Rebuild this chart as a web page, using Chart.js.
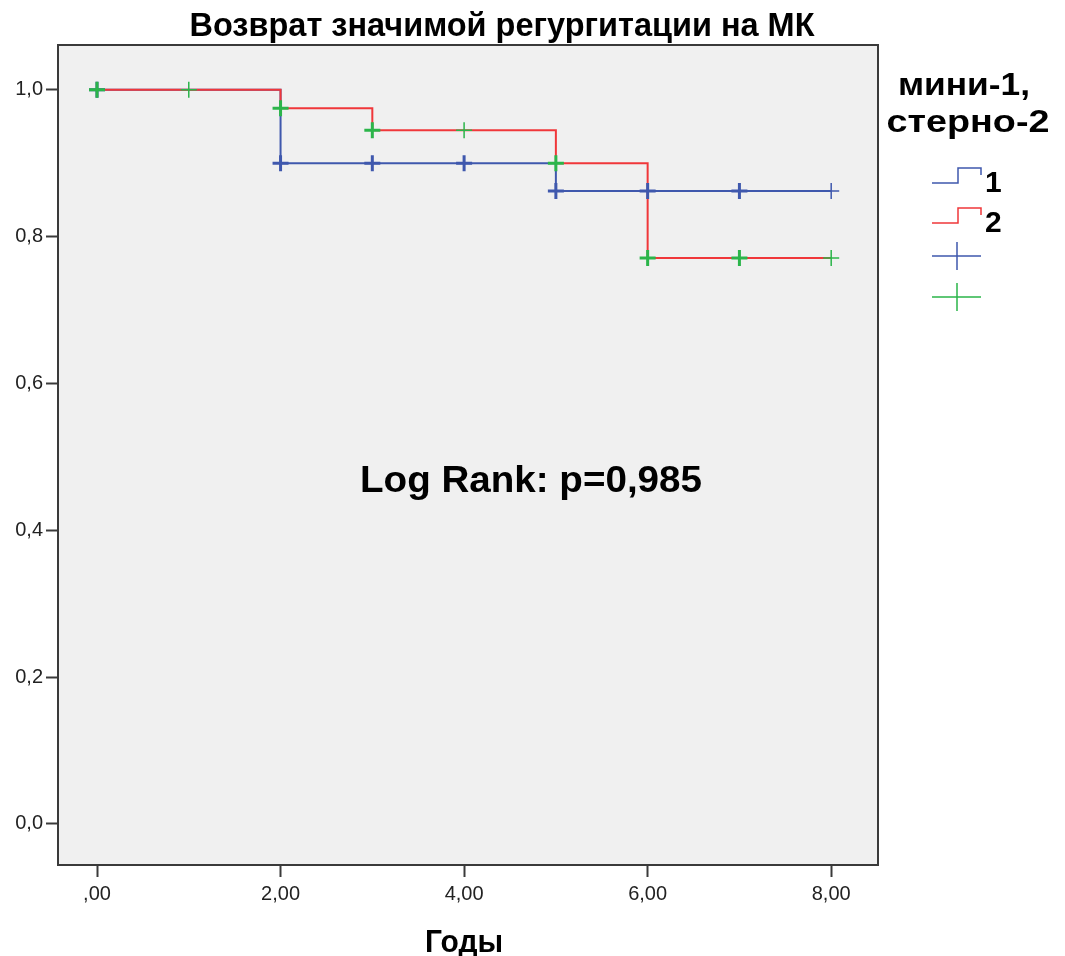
<!DOCTYPE html>
<html>
<head>
<meta charset="utf-8">
<script src="https://cdn.jsdelivr.net/npm/chart.js@4/dist/chart.umd.min.js"></script>
<style>
  html, body { margin: 0; padding: 0; background: #fff; }
  #wrap { width: 1065px; height: 956px; }
</style>
</head>
<body>
<div id="wrap"><canvas id="km"></canvas></div>
<script>
// Kaplan-Meier steps
const years1 = [0, 2, 5, 8];
const surv1 = [1.0, 0.9, 0.862, 0.862];
const years2 = [0, 2, 3, 5, 6, 8];
const surv2 = [1.0, 0.975, 0.945, 0.9, 0.771, 0.771];

// censored cases
const cens1X = [0, 2, 3, 4, 5, 6, 7, 8];
const cens1Y = [1.0, 0.9, 0.9, 0.9, 0.862, 0.862, 0.862, 0.862];
const cens2X = [0, 1, 2, 3, 4, 5, 6, 7, 8];
const cens2Y = [1.0, 1.0, 0.975, 0.945, 0.945, 0.9, 0.771, 0.771, 0.771];

const xTicks = [0, 2, 4, 6, 8];
const yTicks = [0, 0.2, 0.4, 0.6, 0.8, 1.0];

const chartTitle = "Возврат значимой регургитации на МК";
const xTitle = "Годы";
const legendTitle = ["мини-1,", "стерно-2"];
const groupNames = ["1", "2"];
const note = "Log Rank: p=0,985";

const BLUE = "#3f58ad";
const RED = "#f0373a";
const GREEN = "#2bb54a";
const FONT = "'Liberation Sans', Arial, sans-serif";

const toPts = (xs, ys) => xs.map((x, i) => ({ x, y: ys[i] }));

const thinLast1 = [3, 3, 3, 3, 3, 3, 3, 1.5];
const thin2 = [3, 1.5, 3, 3, 1.5, 3, 3, 3, 1.5];

// draw bold text centred at cx, stretched to a given width
function fitText(ctx, text, cx, baseline, size, width) {
  ctx.save();
  ctx.font = "bold " + size + "px " + FONT;
  ctx.textAlign = "center";
  ctx.textBaseline = "alphabetic";
  const w = ctx.measureText(text).width;
  ctx.translate(cx, baseline);
  ctx.scale(width / w, 1);
  ctx.fillText(text, 0, 0);
  ctx.restore();
}

const deco = {
  id: "deco",
  beforeDraw(chart) {
    const { ctx, chartArea: a } = chart;
    ctx.save();
    ctx.fillStyle = "#fff";
    ctx.fillRect(0, 0, chart.width, chart.height);
    ctx.fillStyle = "#f0f0f0";
    ctx.fillRect(a.left, a.top, a.right - a.left, a.bottom - a.top);
    ctx.restore();
  },
  afterDraw(chart) {
    const { ctx, chartArea: a } = chart;
    ctx.save();
    // frame
    ctx.strokeStyle = "#3a3a3a";
    ctx.lineWidth = 2;
    ctx.strokeRect(a.left, a.top, a.right - a.left, a.bottom - a.top);

    ctx.fillStyle = "#000";
    fitText(ctx, chartTitle, 502, 36, 33, 625);
    fitText(ctx, xTitle, 464, 952, 31, 78);
    fitText(ctx, note, 531, 492, 37, 342);
    fitText(ctx, legendTitle[0], 964, 95, 31, 132);
    fitText(ctx, legendTitle[1], 968, 132, 32, 163);

    ctx.lineWidth = 1.5;
    const stepIcon = (color, yLow) => {
      ctx.strokeStyle = color;
      ctx.beginPath();
      ctx.moveTo(932, yLow);
      ctx.lineTo(958, yLow);
      ctx.lineTo(958, yLow - 15);
      ctx.lineTo(981, yLow - 15);
      ctx.lineTo(981, yLow - 8);
      ctx.stroke();
    };
    stepIcon(BLUE, 183);
    stepIcon(RED, 223);
    ctx.textAlign = "left";
    ctx.textBaseline = "alphabetic";
    ctx.font = "bold 30px " + FONT;
    ctx.fillText(groupNames[0], 985, 192);
    ctx.fillText(groupNames[1], 985, 232);

    const crossIcon = (color, cy) => {
      ctx.strokeStyle = color;
      ctx.beginPath();
      ctx.moveTo(932, cy);
      ctx.lineTo(981, cy);
      ctx.moveTo(957, cy - 14);
      ctx.lineTo(957, cy + 14);
      ctx.stroke();
    };
    crossIcon(BLUE, 256);
    crossIcon(GREEN, 297);
    ctx.restore();
  }
};

new Chart(document.getElementById("km"), {
  type: "line",
  data: {
    datasets: [
      {
        label: "1",
        data: toPts(years1, surv1),
        stepped: "before",
        borderColor: BLUE,
        borderWidth: 2,
        pointRadius: 0,
        fill: false,
        order: 3
      },
      {
        label: "2",
        data: toPts(years2, surv2),
        stepped: "before",
        borderColor: RED,
        borderWidth: 2,
        pointRadius: 0,
        fill: false,
        order: 2
      },
      {
        label: "1 censored",
        data: toPts(cens1X, cens1Y),
        showLine: false,
        pointStyle: "cross",
        pointRadius: 8,
        pointBorderWidth: thinLast1,
        borderColor: BLUE,
        order: 1
      },
      {
        label: "2 censored",
        data: toPts(cens2X, cens2Y),
        showLine: false,
        pointStyle: "cross",
        pointRadius: 8,
        pointBorderWidth: thin2,
        borderColor: GREEN,
        order: 0
      }
    ]
  },
  options: {
    responsive: true,
    maintainAspectRatio: false,
    animation: false,
    layout: { padding: { top: 45, right: 187, left: 0, bottom: 0 } },
    plugins: {
      legend: { display: false },
      tooltip: { enabled: false }
    },
    scales: {
      x: {
        type: "linear",
        min: -0.425,
        max: 8.51,
        afterBuildTicks: (s) => { s.ticks = xTicks.map((v) => ({ value: v })); },
        afterFit: (s) => { s.height = 91; },
        grid: { drawOnChartArea: false, tickLength: 12, tickWidth: 2, tickColor: "#3a3a3a" },
        border: { display: false },
        ticks: {
          color: "#222",
          padding: 5,
          maxRotation: 0,
          font: { family: FONT, size: 20 },
          callback: (v) => (v === 0 ? ",00" : v.toFixed(2).replace(".", ","))
        }
      },
      y: {
        type: "linear",
        min: -0.056,
        max: 1.061,
        afterBuildTicks: (s) => { s.ticks = yTicks.map((v) => ({ value: v })); },
        afterFit: (s) => { s.width = 58; },
        grid: { drawOnChartArea: false, tickLength: 12, tickWidth: 2, tickColor: "#3a3a3a" },
        border: { display: false },
        ticks: {
          color: "#222",
          padding: 3,
          font: { family: FONT, size: 20 },
          callback: (v) => v.toFixed(1).replace(".", ",")
        }
      }
    }
  },
  plugins: [deco]
});
</script>
</body>
</html>
